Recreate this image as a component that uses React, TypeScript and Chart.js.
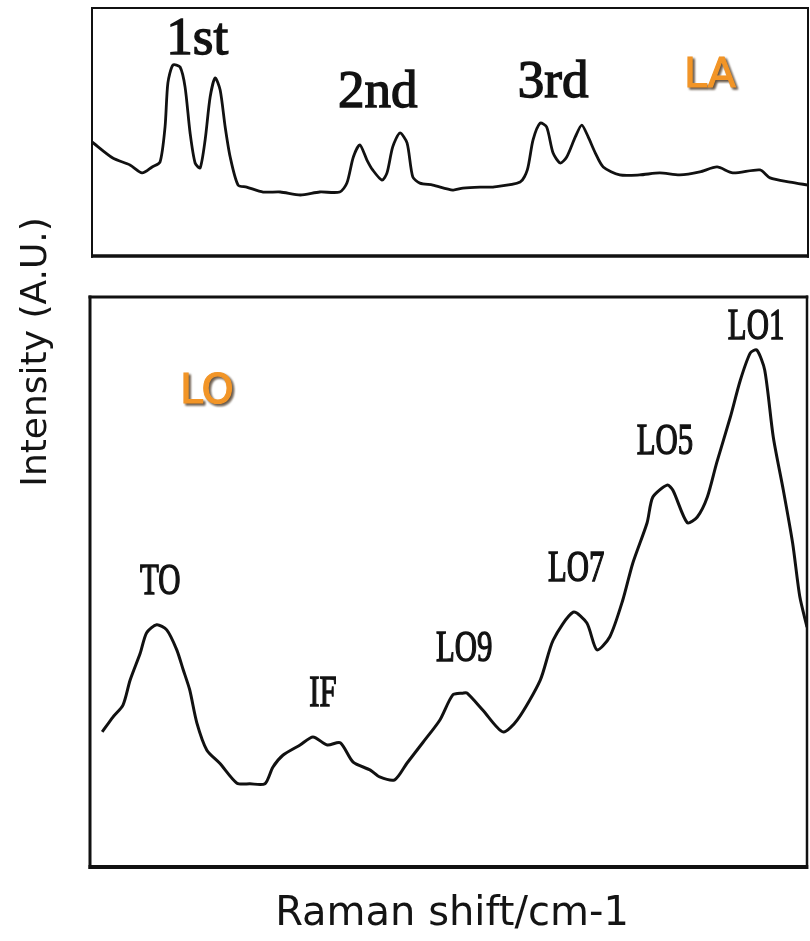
import React, { useEffect, useRef } from "react";
import { Chart, registerables } from "chart.js";

Chart.register(...registerables);

// Upper panel: LA band, relative Raman shift (0-100) vs. intensity (A.U.)
const laShift = [
  0, 2.9, 5.3, 7.0, 8.4, 9.5, 10.2, 10.6, 11.3, 12.3, 13.0, 13.7, 14.4, 15.1, 15.8, 16.5, 17.2, 17.9,
  18.6, 19.3, 20.4, 21.6, 23.9, 26.3, 29.1, 31.8, 34.6, 35.6, 36.5, 37.4, 38.4, 39.2, 40.5, 41.2,
  42.0, 43.0, 44.0, 44.8, 45.8, 47.6, 50.4, 51.8, 54.2, 56.0, 59.8, 60.8, 61.6, 62.6, 63.5, 64.4,
  65.4, 66.3, 67.5, 68.4, 69.3, 70.3, 71.4, 73.7, 76.5, 79.3, 82.1, 84.9, 87.3, 89.5, 93.3, 94.7,
  97.5, 100,
];
const laIntensity = [
  46.0, 39.5, 36.7, 33.5, 35.9, 37.9, 52.0, 69.8, 77.0, 76.2, 68.1, 49.6, 37.5, 35.5, 46.8, 64.1, 71.8, 66.9,
  52.0, 39.9, 28.6, 27.8, 25.8, 25.8, 24.6, 25.8, 25.8, 29.4, 39.9, 44.8, 38.7, 34.7, 30.6, 33.5,
  44.0, 49.6, 45.6, 31.9, 29.4, 28.6, 26.6, 27.4, 27.8, 27.8, 29.8, 34.7, 46.8, 53.6, 52.0, 41.5,
  37.5, 39.9, 48.0, 52.8, 48.0, 41.5, 35.9, 32.7, 32.7, 33.5, 32.7, 33.9, 35.9, 33.5, 34.7, 31.5,
  29.8, 28.6,
];

// Lower panel: LO band, relative Raman shift (0-100) vs. intensity (A.U.)
const loShift = [
  1.7, 3.2, 4.6, 5.6, 7.0, 7.9, 9.3, 10.7, 12.1, 13.0, 13.9, 14.9, 16.3, 18.1, 20.5, 22.3, 24.4, 25.5,
  26.9, 29.3, 31.1, 33.1, 34.9, 36.7, 39.1, 40.4, 42.5, 44.2, 46.4, 48.8, 50.6, 52.0, 52.6, 54.8,
  57.6, 59.6, 62.8, 64.6, 67.4, 69.3, 70.7, 72.5, 74.3, 75.7, 77.7, 78.5, 80.5, 81.3, 83.3, 84.7,
  86.1, 87.4, 89.3, 90.7, 92.1, 93.0, 94.1, 95.3, 96.7, 98.0, 99.0, 100,
];
const loIntensity = [
  23.7, 26.3, 28.4, 32.8, 37.5, 41.1, 42.5, 41.6, 38.1, 34.6, 31.1, 25.3, 20.5, 18.2, 14.7, 14.6, 14.6, 17.5,
  19.6, 21.4, 22.8, 21.4, 21.8, 18.4, 17.0, 15.8, 15.3, 18.2, 21.8, 25.8, 30.2, 30.5, 30.5, 27.5,
  23.7, 25.8, 32.8, 39.8, 44.7, 42.8, 38.1, 40.4, 46.8, 53.3, 60.4, 64.9, 67.0, 66.1, 60.4, 61.4,
  64.9, 70.9, 78.9, 85.4, 90.2, 90.7, 87.2, 75.4, 66.1, 56.8, 47.4, 42.1,
];

// Overtone labels of the LA band (text baseline anchored at shift / level)
const laLabels = ["1st", "2nd", "3rd"];
const laLabelShift = [14.7, 39.9, 64.4];
const laLabelLevel = [81.5, 60.1, 64.1];

// Mode labels of the LO band
const loLabels = ["TO", "IF", "LO9", "LO7", "LO5", "LO1"];
const loLabelShift = [9.8, 32.5, 52.2, 67.8, 80.2, 92.9];
const loLabelLevel = [47.9, 28.2, 36.1, 50.2, 72.5, 92.6];

// Band names
const bandNames = ["LA", "LO"];
const bandShift = [86.3, 16.3];
const bandLevel = [68.1, 81.4];

const xTitle = "Raman shift/cm-1";
const yTitle = "Intensity (A.U.)";

type TextStyle = {
  font: string;
  color: string;
  scaleX?: number;
  stroke?: number;
  shadow?: boolean;
};

const ordinalStyle: TextStyle = { font: '53px "Liberation Serif"', color: "#121212", stroke: 1.4 };
const modeStyle: TextStyle = { font: '44px "Liberation Serif"', color: "#121212", scaleX: 0.7, stroke: 1.4 };
const bandStyle: TextStyle = { font: '41px "DejaVu Sans"', color: "#F29527", stroke: 1.2, shadow: true };

function drawText(ctx: CanvasRenderingContext2D, text: string, x: number, y: number, s: TextStyle) {
  ctx.save();
  ctx.translate(x, y);
  if (s.scaleX) ctx.scale(s.scaleX, 1);
  ctx.font = s.font;
  ctx.textAlign = "center";
  ctx.textBaseline = "alphabetic";
  if (s.shadow) {
    ctx.save();
    ctx.fillStyle = "rgba(60,40,20,0.8)";
    ctx.lineWidth = s.stroke || 0;
    ctx.strokeStyle = "rgba(60,40,20,0.8)";
    ctx.filter = "blur(0.8px)";
    ctx.fillText(text, 2, 2);
    if (s.stroke) ctx.strokeText(text, 2, 2);
    ctx.restore();
  }
  ctx.fillStyle = s.color;
  ctx.fillText(text, 0, 0);
  if (s.stroke) {
    ctx.lineWidth = s.stroke;
    ctx.strokeStyle = s.color;
    ctx.strokeText(text, 0, 0);
  }
  ctx.restore();
}

type Edges = { top: number; right: number; bottom: number; left: number };

function drawFrame(chart: Chart, w: Edges) {
  const { ctx, chartArea: a } = chart;
  ctx.save();
  ctx.strokeStyle = "#111";
  ctx.lineCap = "butt";
  const line = (x1: number, y1: number, x2: number, y2: number, lw: number) => {
    ctx.lineWidth = lw;
    ctx.beginPath();
    ctx.moveTo(x1, y1);
    ctx.lineTo(x2, y2);
    ctx.stroke();
  };
  line(a.left - w.left / 2, a.top, a.right + w.right / 2, a.top, w.top);
  line(a.left - w.left / 2, a.bottom, a.right + w.right / 2, a.bottom, w.bottom);
  line(a.left, a.top - w.top / 2, a.left, a.bottom + w.bottom / 2, w.left);
  line(a.right, a.top - w.top / 2, a.right, a.bottom + w.bottom / 2, w.right);
  ctx.restore();
}

function labelPlugin(
  id: string,
  items: { text: string; x: number; y: number; style: TextStyle }[],
  frame: Edges,
  extra?: (chart: Chart) => void
) {
  return {
    id,
    afterDatasetsDraw(chart: Chart) {
      const xs = chart.scales.x;
      const ys = chart.scales.y;
      drawFrame(chart, frame);
      for (const it of items) {
        drawText(chart.ctx, it.text, xs.getPixelForValue(it.x), ys.getPixelForValue(it.y), it.style);
      }
      if (extra) extra(chart);
    },
  };
}

function baseOptions(padding: { top: number; left: number; right: number; bottom: number }) {
  return {
    responsive: false,
    animation: false as const,
    layout: { padding },
    plugins: { legend: { display: false }, tooltip: { enabled: false } },
    scales: {
      x: { type: "linear" as const, min: 0, max: 100, display: false },
      y: { type: "linear" as const, min: 0, max: 100, display: false },
    },
    elements: { point: { radius: 0 } },
  };
}

function series(xs: number[], ys: number[]) {
  return xs.map((x, i) => ({ x, y: ys[i] }));
}

export default function App() {
  const topRef = useRef<HTMLCanvasElement>(null);
  const bottomRef = useRef<HTMLCanvasElement>(null);

  useEffect(() => {
    const laItems = [
      ...laLabels.map((t, i) => ({ text: t, x: laLabelShift[i], y: laLabelLevel[i], style: ordinalStyle })),
      { text: bandNames[0], x: bandShift[0], y: bandLevel[0], style: bandStyle },
    ];
    const loItems = [
      ...loLabels.map((t, i) => ({ text: t, x: loLabelShift[i], y: loLabelLevel[i], style: modeStyle })),
      { text: bandNames[1], x: bandShift[1], y: bandLevel[1], style: bandStyle },
    ];

    const top = new Chart(topRef.current!, {
      type: "line",
      data: {
        datasets: [
          {
            data: series(laShift, laIntensity),
            borderColor: "#111",
            borderWidth: 2.8,
            tension: 0.25,
            fill: false,
            pointRadius: 0,
          },
        ],
      },
      options: baseOptions({ top: 8, left: 92, right: 2, bottom: 14 }),
      plugins: [labelPlugin("laLabels", laItems, { top: 2, right: 2, bottom: 3.5, left: 2 })],
    });

    const bottom = new Chart(bottomRef.current!, {
      type: "line",
      data: {
        datasets: [
          {
            data: series(loShift, loIntensity),
            borderColor: "#111",
            borderWidth: 3,
            tension: 0.25,
            fill: false,
            pointRadius: 0,
          },
        ],
      },
      options: baseOptions({ top: 297, left: 90, right: 3, bottom: 74 }),
      plugins: [
        labelPlugin("loLabels", loItems, { top: 3, right: 2.5, bottom: 4, left: 3 }, (chart) => {
          const ctx = chart.ctx;
          ctx.save();
          ctx.fillStyle = "#141414";
          ctx.font = '40px "DejaVu Sans"';
          ctx.textAlign = "center";
          ctx.textBaseline = "alphabetic";
          ctx.fillText(xTitle, 452, 925);
          ctx.translate(46, 352);
          ctx.rotate(-Math.PI / 2);
          ctx.font = '36px "DejaVu Sans"';
          ctx.fillText(yTitle, 0, 0);
          ctx.restore();
        }),
      ],
    });

    return () => {
      top.destroy();
      bottom.destroy();
    };
  }, []);

  return (
    <div style={{ position: "absolute", left: 0, top: 0, width: 810, height: 941, background: "#fff" }}>
      <canvas ref={bottomRef} width={810} height={941} style={{ position: "absolute", left: 0, top: 0 }} />
      <canvas ref={topRef} width={810} height={270} style={{ position: "absolute", left: 0, top: 0 }} />
    </div>
  );
}
